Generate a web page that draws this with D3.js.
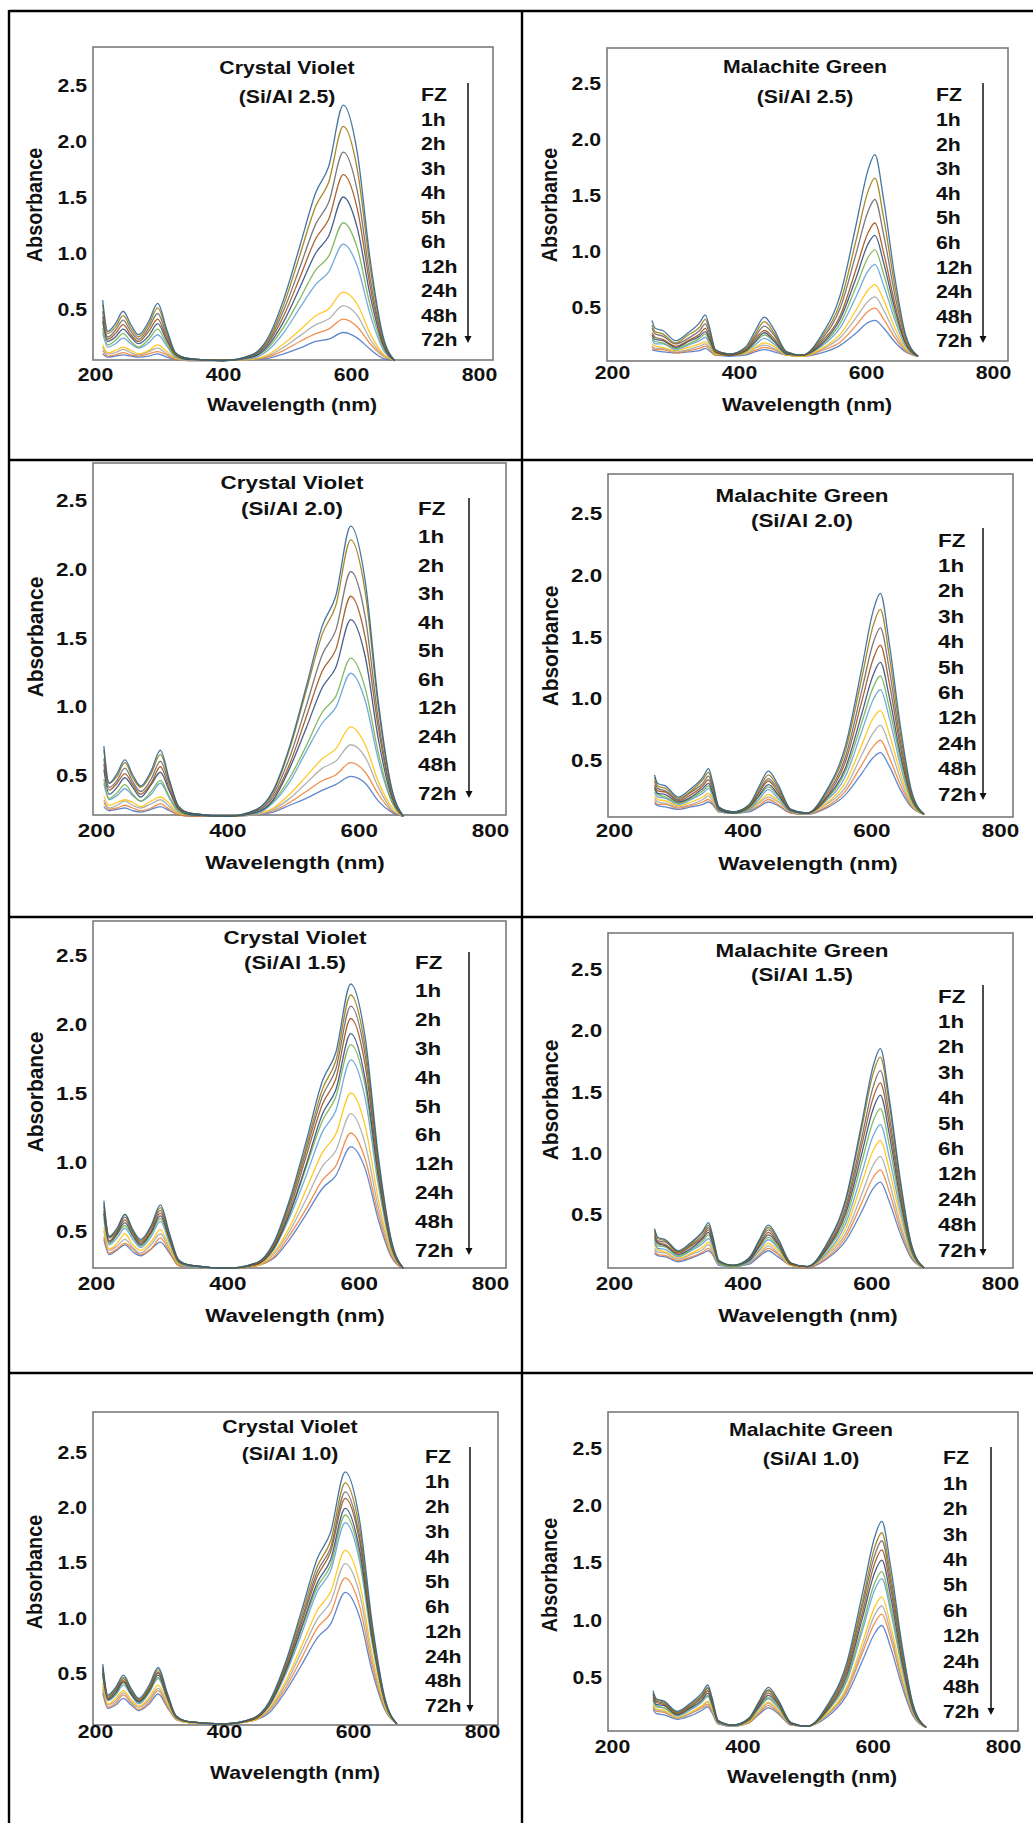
<!DOCTYPE html>
<html lang="en">
<head>
<meta charset="UTF-8">
<title>CV / MG absorbance spectra</title>
<script src="https://d3js.org/d3.v7.min.js"></script>
<style>
  body { margin: 0; background: #fff; }
  svg { display: block; }
  text { font-family: Arial, "Liberation Sans", sans-serif; font-weight: bold; fill: #111; }
</style>
</head>
<body>
<svg width="1033" height="1823"></svg>
<script>
// ---- data ----
const seriesLabels = ["FZ", "1h", "2h", "3h", "4h", "5h", "6h", "12h", "24h", "48h", "72h"];
const xTicks = [200, 400, 600, 800];
const yTicks = [0.5, 1.0, 1.5, 2.0, 2.5];

const cvWavelength = [212, 220, 232, 244, 256, 268, 284, 298, 312, 326, 345, 400, 445, 470, 495, 520, 545, 565, 588, 610, 630, 650, 668];
const mgWavelength = [263, 268, 280, 300, 320, 338, 347, 353, 363, 385, 410, 425, 440, 455, 475, 500, 530, 560, 585, 603, 614, 628, 645, 662, 682];

// Crystal Violet, Si/Al 2.5 (rows: FZ ... 72h)
const cv25 = [
  [0.58, 0.30, 0.37, 0.48, 0.36, 0.27, 0.39, 0.55, 0.32, 0.11, 0.06, 0.04, 0.09, 0.24, 0.59, 1.06, 1.54, 1.77, 2.32, 1.89, 0.94, 0.26, 0.04],
  [0.54, 0.28, 0.34, 0.44, 0.33, 0.25, 0.36, 0.51, 0.30, 0.10, 0.06, 0.04, 0.09, 0.22, 0.54, 0.98, 1.42, 1.63, 2.13, 1.74, 0.87, 0.24, 0.04],
  [0.48, 0.25, 0.31, 0.40, 0.30, 0.23, 0.33, 0.46, 0.27, 0.10, 0.06, 0.04, 0.08, 0.20, 0.49, 0.87, 1.26, 1.45, 1.90, 1.55, 0.77, 0.22, 0.04],
  [0.43, 0.23, 0.28, 0.36, 0.27, 0.21, 0.30, 0.41, 0.24, 0.09, 0.06, 0.04, 0.08, 0.19, 0.44, 0.78, 1.13, 1.30, 1.70, 1.39, 0.70, 0.20, 0.04],
  [0.39, 0.21, 0.25, 0.32, 0.25, 0.19, 0.26, 0.37, 0.22, 0.09, 0.05, 0.04, 0.07, 0.17, 0.39, 0.69, 1.00, 1.15, 1.50, 1.22, 0.62, 0.18, 0.04],
  [0.33, 0.18, 0.22, 0.28, 0.21, 0.16, 0.23, 0.32, 0.19, 0.08, 0.05, 0.04, 0.07, 0.15, 0.34, 0.59, 0.85, 0.97, 1.27, 1.04, 0.53, 0.16, 0.04],
  [0.29, 0.16, 0.19, 0.24, 0.19, 0.15, 0.20, 0.27, 0.17, 0.07, 0.05, 0.04, 0.06, 0.13, 0.29, 0.51, 0.72, 0.83, 1.08, 0.88, 0.45, 0.14, 0.04],
  [0.18, 0.11, 0.13, 0.16, 0.13, 0.10, 0.13, 0.18, 0.12, 0.06, 0.05, 0.04, 0.05, 0.09, 0.19, 0.31, 0.44, 0.50, 0.65, 0.54, 0.28, 0.10, 0.04],
  [0.16, 0.10, 0.11, 0.14, 0.11, 0.09, 0.12, 0.15, 0.10, 0.06, 0.04, 0.04, 0.05, 0.08, 0.16, 0.26, 0.36, 0.41, 0.53, 0.44, 0.23, 0.09, 0.04],
  [0.13, 0.08, 0.09, 0.11, 0.09, 0.08, 0.10, 0.12, 0.09, 0.05, 0.04, 0.04, 0.05, 0.07, 0.13, 0.21, 0.28, 0.32, 0.41, 0.34, 0.19, 0.08, 0.04],
  [0.10, 0.07, 0.08, 0.09, 0.08, 0.07, 0.08, 0.10, 0.07, 0.05, 0.04, 0.04, 0.05, 0.06, 0.10, 0.15, 0.21, 0.23, 0.29, 0.24, 0.14, 0.06, 0.04]
];

// Crystal Violet, Si/Al 2.0 (this panel's axis sits higher: baseline reads about 0.2)
const cv20 = [
  [0.71, 0.44, 0.51, 0.61, 0.50, 0.42, 0.53, 0.68, 0.46, 0.27, 0.22, 0.20, 0.25, 0.39, 0.71, 1.14, 1.59, 1.80, 2.31, 1.91, 1.03, 0.41, 0.20],
  [0.68, 0.44, 0.49, 0.59, 0.48, 0.41, 0.51, 0.65, 0.45, 0.27, 0.22, 0.20, 0.25, 0.38, 0.69, 1.11, 1.53, 1.73, 2.21, 1.83, 0.99, 0.40, 0.20],
  [0.62, 0.41, 0.46, 0.55, 0.45, 0.38, 0.47, 0.60, 0.43, 0.26, 0.22, 0.20, 0.24, 0.36, 0.63, 1.00, 1.38, 1.55, 1.98, 1.65, 0.90, 0.37, 0.20],
  [0.58, 0.39, 0.44, 0.51, 0.43, 0.36, 0.44, 0.56, 0.40, 0.25, 0.22, 0.20, 0.24, 0.34, 0.58, 0.92, 1.26, 1.41, 1.80, 1.50, 0.84, 0.36, 0.20],
  [0.54, 0.36, 0.41, 0.48, 0.41, 0.34, 0.43, 0.52, 0.38, 0.25, 0.21, 0.20, 0.23, 0.32, 0.55, 0.84, 1.14, 1.28, 1.63, 1.36, 0.76, 0.34, 0.20],
  [0.47, 0.33, 0.37, 0.43, 0.36, 0.31, 0.38, 0.46, 0.34, 0.24, 0.21, 0.20, 0.23, 0.31, 0.48, 0.71, 0.96, 1.07, 1.35, 1.13, 0.66, 0.31, 0.20],
  [0.44, 0.32, 0.35, 0.40, 0.35, 0.31, 0.36, 0.44, 0.33, 0.23, 0.21, 0.20, 0.22, 0.30, 0.45, 0.67, 0.88, 0.99, 1.24, 1.04, 0.61, 0.31, 0.20],
  [0.35, 0.28, 0.30, 0.32, 0.30, 0.27, 0.31, 0.34, 0.29, 0.22, 0.21, 0.20, 0.22, 0.26, 0.36, 0.49, 0.62, 0.69, 0.85, 0.72, 0.45, 0.27, 0.20],
  [0.32, 0.26, 0.28, 0.31, 0.28, 0.26, 0.29, 0.32, 0.27, 0.22, 0.21, 0.20, 0.21, 0.25, 0.33, 0.44, 0.55, 0.60, 0.72, 0.63, 0.41, 0.25, 0.20],
  [0.30, 0.25, 0.26, 0.28, 0.26, 0.24, 0.26, 0.29, 0.25, 0.21, 0.20, 0.20, 0.21, 0.24, 0.30, 0.38, 0.46, 0.50, 0.59, 0.52, 0.36, 0.24, 0.20],
  [0.27, 0.24, 0.25, 0.26, 0.24, 0.23, 0.25, 0.27, 0.24, 0.21, 0.20, 0.20, 0.21, 0.23, 0.28, 0.33, 0.39, 0.43, 0.49, 0.44, 0.31, 0.23, 0.20]
];

// Crystal Violet, Si/Al 1.5 (baseline reads about 0.23 on this panel's axis)
const cv15 = [
  [0.72, 0.46, 0.52, 0.62, 0.51, 0.44, 0.54, 0.69, 0.48, 0.29, 0.25, 0.23, 0.27, 0.41, 0.73, 1.15, 1.59, 1.79, 2.29, 1.90, 1.04, 0.43, 0.23],
  [0.70, 0.46, 0.51, 0.62, 0.50, 0.43, 0.53, 0.67, 0.47, 0.29, 0.25, 0.23, 0.27, 0.40, 0.71, 1.11, 1.53, 1.73, 2.21, 1.83, 1.01, 0.42, 0.23],
  [0.68, 0.45, 0.50, 0.60, 0.50, 0.42, 0.52, 0.65, 0.46, 0.28, 0.25, 0.23, 0.27, 0.39, 0.69, 1.08, 1.48, 1.67, 2.13, 1.77, 0.98, 0.41, 0.23],
  [0.65, 0.43, 0.49, 0.58, 0.49, 0.41, 0.50, 0.63, 0.45, 0.28, 0.25, 0.23, 0.26, 0.38, 0.66, 1.04, 1.42, 1.60, 2.04, 1.70, 0.94, 0.40, 0.23],
  [0.63, 0.42, 0.48, 0.56, 0.47, 0.40, 0.49, 0.61, 0.44, 0.28, 0.25, 0.23, 0.26, 0.37, 0.63, 0.98, 1.35, 1.52, 1.93, 1.60, 0.90, 0.39, 0.23],
  [0.62, 0.41, 0.47, 0.54, 0.46, 0.39, 0.48, 0.59, 0.43, 0.27, 0.25, 0.23, 0.26, 0.37, 0.62, 0.96, 1.30, 1.47, 1.85, 1.55, 0.87, 0.38, 0.23],
  [0.59, 0.40, 0.45, 0.52, 0.44, 0.38, 0.46, 0.57, 0.41, 0.27, 0.24, 0.23, 0.26, 0.36, 0.60, 0.90, 1.22, 1.37, 1.74, 1.46, 0.83, 0.37, 0.23],
  [0.53, 0.37, 0.41, 0.48, 0.40, 0.36, 0.42, 0.51, 0.38, 0.26, 0.24, 0.23, 0.25, 0.34, 0.53, 0.80, 1.07, 1.20, 1.50, 1.26, 0.73, 0.35, 0.23],
  [0.50, 0.36, 0.39, 0.44, 0.38, 0.34, 0.40, 0.48, 0.37, 0.26, 0.24, 0.23, 0.25, 0.33, 0.50, 0.73, 0.97, 1.08, 1.35, 1.13, 0.67, 0.34, 0.23],
  [0.46, 0.34, 0.37, 0.41, 0.37, 0.33, 0.37, 0.45, 0.35, 0.25, 0.24, 0.23, 0.25, 0.31, 0.47, 0.66, 0.87, 0.97, 1.21, 1.02, 0.62, 0.32, 0.23],
  [0.44, 0.33, 0.36, 0.40, 0.35, 0.32, 0.37, 0.42, 0.34, 0.25, 0.24, 0.23, 0.25, 0.30, 0.44, 0.62, 0.81, 0.90, 1.11, 0.95, 0.58, 0.31, 0.23]
];

// Crystal Violet, Si/Al 1.0
const cv10 = [
  [0.58, 0.30, 0.37, 0.48, 0.36, 0.27, 0.39, 0.55, 0.32, 0.11, 0.06, 0.04, 0.09, 0.24, 0.59, 1.06, 1.54, 1.77, 2.32, 1.89, 0.94, 0.26, 0.04],
  [0.56, 0.29, 0.36, 0.46, 0.35, 0.26, 0.37, 0.53, 0.31, 0.11, 0.06, 0.04, 0.09, 0.23, 0.57, 1.02, 1.47, 1.69, 2.22, 1.81, 0.90, 0.25, 0.04],
  [0.54, 0.28, 0.34, 0.45, 0.33, 0.25, 0.36, 0.51, 0.30, 0.10, 0.06, 0.04, 0.09, 0.22, 0.55, 0.98, 1.42, 1.63, 2.14, 1.74, 0.87, 0.24, 0.04],
  [0.52, 0.27, 0.34, 0.43, 0.33, 0.25, 0.35, 0.50, 0.29, 0.10, 0.06, 0.04, 0.08, 0.22, 0.53, 0.95, 1.38, 1.59, 2.08, 1.70, 0.85, 0.24, 0.04],
  [0.50, 0.26, 0.32, 0.42, 0.31, 0.24, 0.34, 0.48, 0.28, 0.10, 0.06, 0.04, 0.08, 0.21, 0.51, 0.91, 1.32, 1.52, 1.99, 1.62, 0.81, 0.23, 0.04],
  [0.49, 0.26, 0.31, 0.41, 0.31, 0.23, 0.33, 0.46, 0.27, 0.10, 0.06, 0.04, 0.08, 0.21, 0.50, 0.89, 1.28, 1.47, 1.93, 1.57, 0.79, 0.22, 0.04],
  [0.47, 0.25, 0.30, 0.39, 0.30, 0.22, 0.32, 0.45, 0.26, 0.10, 0.06, 0.04, 0.08, 0.20, 0.48, 0.85, 1.24, 1.42, 1.86, 1.52, 0.76, 0.22, 0.04],
  [0.41, 0.22, 0.27, 0.34, 0.26, 0.20, 0.28, 0.39, 0.23, 0.09, 0.05, 0.04, 0.07, 0.18, 0.42, 0.74, 1.07, 1.23, 1.61, 1.32, 0.66, 0.19, 0.04],
  [0.38, 0.21, 0.25, 0.32, 0.24, 0.19, 0.26, 0.36, 0.22, 0.08, 0.05, 0.04, 0.07, 0.17, 0.39, 0.69, 0.99, 1.14, 1.49, 1.22, 0.61, 0.18, 0.04],
  [0.35, 0.19, 0.23, 0.30, 0.23, 0.17, 0.24, 0.34, 0.20, 0.08, 0.05, 0.04, 0.07, 0.16, 0.36, 0.63, 0.91, 1.04, 1.36, 1.11, 0.56, 0.17, 0.04],
  [0.32, 0.18, 0.21, 0.27, 0.21, 0.16, 0.22, 0.31, 0.19, 0.08, 0.05, 0.04, 0.07, 0.14, 0.33, 0.57, 0.82, 0.94, 1.23, 1.01, 0.51, 0.16, 0.04]
];

// Malachite Green, Si/Al 2.5
const mg25 = [
  [0.38, 0.31, 0.29, 0.20, 0.27, 0.36, 0.43, 0.33, 0.12, 0.08, 0.14, 0.28, 0.41, 0.30, 0.10, 0.07, 0.25, 0.62, 1.25, 1.72, 1.86, 1.45, 0.78, 0.26, 0.06],
  [0.34, 0.28, 0.26, 0.18, 0.25, 0.32, 0.39, 0.30, 0.11, 0.08, 0.13, 0.25, 0.37, 0.27, 0.10, 0.07, 0.23, 0.55, 1.11, 1.53, 1.65, 1.29, 0.70, 0.24, 0.06],
  [0.31, 0.26, 0.24, 0.17, 0.22, 0.29, 0.35, 0.27, 0.11, 0.08, 0.12, 0.23, 0.33, 0.25, 0.09, 0.07, 0.21, 0.50, 0.99, 1.35, 1.46, 1.14, 0.62, 0.22, 0.06],
  [0.27, 0.23, 0.21, 0.15, 0.20, 0.26, 0.31, 0.24, 0.10, 0.07, 0.11, 0.21, 0.29, 0.22, 0.09, 0.07, 0.19, 0.43, 0.85, 1.16, 1.25, 0.98, 0.54, 0.19, 0.06],
  [0.25, 0.21, 0.20, 0.14, 0.19, 0.24, 0.28, 0.22, 0.10, 0.07, 0.11, 0.19, 0.27, 0.20, 0.08, 0.07, 0.17, 0.40, 0.77, 1.06, 1.14, 0.89, 0.49, 0.18, 0.06],
  [0.23, 0.19, 0.18, 0.13, 0.17, 0.22, 0.26, 0.20, 0.09, 0.07, 0.10, 0.18, 0.25, 0.19, 0.08, 0.07, 0.16, 0.36, 0.69, 0.94, 1.01, 0.79, 0.44, 0.17, 0.06],
  [0.21, 0.17, 0.17, 0.12, 0.16, 0.20, 0.23, 0.18, 0.09, 0.07, 0.10, 0.16, 0.22, 0.17, 0.08, 0.07, 0.15, 0.32, 0.60, 0.82, 0.88, 0.69, 0.39, 0.15, 0.06],
  [0.17, 0.15, 0.14, 0.11, 0.14, 0.17, 0.19, 0.16, 0.08, 0.07, 0.09, 0.14, 0.18, 0.15, 0.07, 0.06, 0.13, 0.26, 0.48, 0.65, 0.70, 0.56, 0.32, 0.13, 0.06],
  [0.15, 0.13, 0.13, 0.10, 0.12, 0.15, 0.17, 0.14, 0.08, 0.07, 0.08, 0.13, 0.16, 0.13, 0.07, 0.06, 0.12, 0.23, 0.41, 0.55, 0.59, 0.47, 0.27, 0.12, 0.06],
  [0.14, 0.12, 0.12, 0.09, 0.11, 0.13, 0.15, 0.13, 0.07, 0.07, 0.08, 0.11, 0.14, 0.12, 0.07, 0.06, 0.11, 0.19, 0.34, 0.46, 0.49, 0.39, 0.23, 0.11, 0.06],
  [0.12, 0.11, 0.10, 0.09, 0.10, 0.11, 0.13, 0.11, 0.07, 0.06, 0.07, 0.10, 0.12, 0.10, 0.07, 0.06, 0.09, 0.16, 0.27, 0.36, 0.38, 0.31, 0.19, 0.10, 0.06]
];

// Malachite Green, Si/Al 2.0
const mg20 = [
  [0.38, 0.31, 0.29, 0.20, 0.27, 0.36, 0.43, 0.33, 0.12, 0.08, 0.14, 0.28, 0.41, 0.30, 0.10, 0.07, 0.25, 0.62, 1.24, 1.71, 1.85, 1.44, 0.78, 0.26, 0.06],
  [0.36, 0.29, 0.27, 0.19, 0.25, 0.34, 0.40, 0.31, 0.12, 0.08, 0.13, 0.26, 0.38, 0.28, 0.10, 0.07, 0.24, 0.58, 1.16, 1.59, 1.72, 1.34, 0.72, 0.24, 0.06],
  [0.33, 0.27, 0.25, 0.18, 0.24, 0.31, 0.37, 0.29, 0.11, 0.08, 0.13, 0.24, 0.35, 0.26, 0.09, 0.07, 0.22, 0.53, 1.06, 1.45, 1.57, 1.23, 0.66, 0.23, 0.06],
  [0.30, 0.25, 0.24, 0.17, 0.22, 0.29, 0.34, 0.27, 0.11, 0.08, 0.12, 0.23, 0.33, 0.24, 0.09, 0.07, 0.20, 0.49, 0.97, 1.32, 1.43, 1.12, 0.61, 0.21, 0.06],
  [0.28, 0.23, 0.22, 0.16, 0.20, 0.27, 0.31, 0.24, 0.10, 0.07, 0.12, 0.21, 0.30, 0.22, 0.09, 0.07, 0.19, 0.44, 0.87, 1.19, 1.29, 1.01, 0.55, 0.20, 0.06],
  [0.26, 0.22, 0.20, 0.15, 0.19, 0.25, 0.29, 0.23, 0.10, 0.07, 0.11, 0.20, 0.28, 0.21, 0.09, 0.07, 0.18, 0.41, 0.80, 1.09, 1.18, 0.92, 0.51, 0.18, 0.06],
  [0.24, 0.20, 0.19, 0.14, 0.18, 0.23, 0.27, 0.21, 0.09, 0.07, 0.10, 0.18, 0.26, 0.19, 0.08, 0.07, 0.17, 0.37, 0.73, 0.99, 1.07, 0.84, 0.46, 0.17, 0.06],
  [0.21, 0.18, 0.17, 0.13, 0.16, 0.20, 0.23, 0.19, 0.09, 0.07, 0.10, 0.16, 0.22, 0.17, 0.08, 0.07, 0.15, 0.32, 0.62, 0.84, 0.90, 0.71, 0.40, 0.15, 0.06],
  [0.19, 0.16, 0.15, 0.12, 0.14, 0.18, 0.21, 0.17, 0.08, 0.07, 0.09, 0.15, 0.20, 0.16, 0.08, 0.06, 0.14, 0.28, 0.54, 0.72, 0.78, 0.62, 0.35, 0.14, 0.06],
  [0.17, 0.14, 0.14, 0.11, 0.13, 0.16, 0.18, 0.15, 0.08, 0.07, 0.09, 0.13, 0.18, 0.14, 0.07, 0.06, 0.12, 0.25, 0.46, 0.61, 0.66, 0.52, 0.30, 0.13, 0.06],
  [0.15, 0.13, 0.12, 0.10, 0.12, 0.14, 0.16, 0.14, 0.08, 0.07, 0.08, 0.12, 0.16, 0.13, 0.07, 0.06, 0.11, 0.22, 0.39, 0.52, 0.56, 0.45, 0.26, 0.12, 0.06]
];

// Malachite Green, Si/Al 1.5
const mg15 = [
  [0.38, 0.31, 0.29, 0.20, 0.27, 0.36, 0.43, 0.33, 0.12, 0.08, 0.14, 0.28, 0.41, 0.30, 0.10, 0.07, 0.25, 0.62, 1.24, 1.71, 1.85, 1.44, 0.78, 0.26, 0.06],
  [0.37, 0.30, 0.28, 0.19, 0.26, 0.35, 0.41, 0.32, 0.12, 0.08, 0.14, 0.27, 0.39, 0.29, 0.10, 0.07, 0.24, 0.60, 1.20, 1.65, 1.78, 1.39, 0.75, 0.25, 0.06],
  [0.35, 0.28, 0.27, 0.19, 0.25, 0.33, 0.39, 0.30, 0.11, 0.08, 0.13, 0.26, 0.37, 0.27, 0.10, 0.07, 0.23, 0.56, 1.12, 1.54, 1.67, 1.30, 0.70, 0.24, 0.06],
  [0.33, 0.27, 0.25, 0.18, 0.24, 0.31, 0.37, 0.29, 0.11, 0.08, 0.13, 0.24, 0.35, 0.26, 0.09, 0.07, 0.22, 0.53, 1.06, 1.45, 1.57, 1.23, 0.66, 0.23, 0.06],
  [0.31, 0.26, 0.24, 0.17, 0.22, 0.30, 0.35, 0.27, 0.11, 0.08, 0.12, 0.23, 0.33, 0.25, 0.09, 0.07, 0.21, 0.50, 0.99, 1.36, 1.47, 1.15, 0.62, 0.22, 0.06],
  [0.29, 0.24, 0.23, 0.16, 0.21, 0.28, 0.33, 0.26, 0.10, 0.07, 0.12, 0.22, 0.31, 0.23, 0.09, 0.07, 0.20, 0.46, 0.92, 1.26, 1.36, 1.06, 0.58, 0.20, 0.06],
  [0.27, 0.22, 0.21, 0.15, 0.20, 0.26, 0.30, 0.24, 0.10, 0.07, 0.11, 0.20, 0.29, 0.22, 0.09, 0.07, 0.18, 0.42, 0.83, 1.14, 1.23, 0.96, 0.53, 0.19, 0.06],
  [0.25, 0.21, 0.19, 0.14, 0.18, 0.23, 0.27, 0.22, 0.10, 0.07, 0.11, 0.19, 0.26, 0.20, 0.08, 0.07, 0.17, 0.38, 0.75, 1.02, 1.10, 0.86, 0.48, 0.18, 0.06],
  [0.22, 0.19, 0.18, 0.13, 0.17, 0.21, 0.25, 0.20, 0.09, 0.07, 0.10, 0.17, 0.24, 0.18, 0.08, 0.07, 0.16, 0.34, 0.66, 0.90, 0.97, 0.76, 0.42, 0.16, 0.06],
  [0.20, 0.17, 0.16, 0.12, 0.15, 0.19, 0.22, 0.18, 0.09, 0.07, 0.10, 0.16, 0.22, 0.17, 0.08, 0.06, 0.14, 0.31, 0.59, 0.80, 0.86, 0.68, 0.38, 0.15, 0.06],
  [0.18, 0.16, 0.15, 0.11, 0.14, 0.18, 0.20, 0.17, 0.08, 0.07, 0.09, 0.15, 0.20, 0.15, 0.08, 0.06, 0.13, 0.28, 0.52, 0.71, 0.76, 0.60, 0.34, 0.14, 0.06]
];

// Malachite Green, Si/Al 1.0
const mg10 = [
  [0.38, 0.31, 0.29, 0.20, 0.27, 0.36, 0.43, 0.33, 0.12, 0.08, 0.14, 0.28, 0.41, 0.30, 0.10, 0.07, 0.25, 0.62, 1.25, 1.72, 1.86, 1.45, 0.78, 0.26, 0.06],
  [0.36, 0.30, 0.28, 0.19, 0.26, 0.34, 0.41, 0.32, 0.12, 0.08, 0.14, 0.27, 0.39, 0.29, 0.10, 0.07, 0.24, 0.59, 1.18, 1.63, 1.76, 1.37, 0.74, 0.25, 0.06],
  [0.35, 0.29, 0.27, 0.19, 0.25, 0.33, 0.40, 0.30, 0.11, 0.08, 0.13, 0.26, 0.38, 0.28, 0.10, 0.07, 0.23, 0.57, 1.14, 1.56, 1.69, 1.32, 0.71, 0.24, 0.06],
  [0.34, 0.28, 0.26, 0.18, 0.24, 0.32, 0.38, 0.29, 0.11, 0.08, 0.13, 0.25, 0.36, 0.27, 0.09, 0.07, 0.22, 0.54, 1.08, 1.49, 1.61, 1.26, 0.68, 0.23, 0.06],
  [0.32, 0.26, 0.25, 0.17, 0.23, 0.30, 0.36, 0.28, 0.11, 0.08, 0.13, 0.24, 0.34, 0.26, 0.09, 0.07, 0.21, 0.51, 1.03, 1.41, 1.52, 1.19, 0.64, 0.22, 0.06],
  [0.30, 0.25, 0.23, 0.17, 0.22, 0.29, 0.34, 0.26, 0.11, 0.08, 0.12, 0.23, 0.32, 0.24, 0.09, 0.07, 0.20, 0.48, 0.96, 1.32, 1.42, 1.11, 0.60, 0.21, 0.06],
  [0.29, 0.24, 0.23, 0.16, 0.21, 0.28, 0.33, 0.26, 0.10, 0.07, 0.12, 0.22, 0.31, 0.23, 0.09, 0.07, 0.20, 0.46, 0.92, 1.26, 1.36, 1.06, 0.58, 0.20, 0.06],
  [0.26, 0.22, 0.21, 0.15, 0.19, 0.25, 0.29, 0.23, 0.10, 0.07, 0.11, 0.20, 0.28, 0.21, 0.09, 0.07, 0.18, 0.41, 0.81, 1.11, 1.20, 0.94, 0.52, 0.19, 0.06],
  [0.25, 0.21, 0.20, 0.14, 0.18, 0.24, 0.28, 0.22, 0.10, 0.07, 0.11, 0.19, 0.27, 0.20, 0.08, 0.07, 0.17, 0.39, 0.76, 1.04, 1.12, 0.88, 0.48, 0.18, 0.06],
  [0.24, 0.20, 0.19, 0.14, 0.18, 0.23, 0.26, 0.21, 0.09, 0.07, 0.10, 0.18, 0.25, 0.19, 0.08, 0.07, 0.17, 0.37, 0.72, 0.97, 1.05, 0.83, 0.46, 0.17, 0.06],
  [0.22, 0.18, 0.17, 0.13, 0.16, 0.21, 0.24, 0.19, 0.09, 0.07, 0.10, 0.17, 0.23, 0.18, 0.08, 0.07, 0.15, 0.34, 0.65, 0.88, 0.95, 0.75, 0.42, 0.16, 0.06]
];

// Excel-like series colours, FZ first
const seriesColors = ["#255E91", "#997300", "#636363", "#9E480E", "#264478", "#70AD47",
                      "#5B9BD5", "#FFC000", "#A5A5A5", "#ED7D31", "#4472C4"];

// ---- layout (page pixels) ----
const SX = 1.18;   // the source figure is stretched horizontally

const panels = [
  { title: "Crystal Violet", sub: "(Si/Al 2.5)", wl: cvWavelength, data: cv25, fs: 18,
    box: [93, 47, 493, 360], x200: 95, x800: 479, y25: 85, y05: 309,
    titleX: 287, titleY: 68, subY: 97, legX: 421, legY0: 95, legY1: 340,
    arrX: 468, arrY0: 83, arrY1: 343, absX: 35, absY: 205, tickY: 375, wlX: 292, wlY: 405 },
  { title: "Malachite Green", sub: "(Si/Al 2.5)", wl: mgWavelength, data: mg25, fs: 18,
    box: [607, 48, 1008, 361], x200: 612, x800: 993, y25: 83, y05: 307,
    titleX: 805, titleY: 67, subY: 97, legX: 936, legY0: 95, legY1: 341,
    arrX: 983, arrY0: 83, arrY1: 343, absX: 550, absY: 205, tickY: 373, wlX: 807, wlY: 405 },
  { title: "Crystal Violet", sub: "(Si/Al 2.0)", wl: cvWavelength, data: cv20, fs: 19,
    box: [93, 463, 506, 815], x200: 96, x800: 490, y25: 500, y05: 775,
    titleX: 292, titleY: 482, subY: 508, legX: 418, legY0: 508, legY1: 793,
    arrX: 469, arrY0: 498, arrY1: 798, absX: 35, absY: 637, tickY: 830, wlX: 295, wlY: 862 },
  { title: "Malachite Green", sub: "(Si/Al 2.0)", wl: mgWavelength, data: mg20, fs: 19,
    box: [608, 474, 1013, 817], x200: 614, x800: 1000, y25: 513, y05: 760,
    titleX: 802, titleY: 495, subY: 520, legX: 938, legY0: 540, legY1: 794,
    arrX: 983, arrY0: 528, arrY1: 800, absX: 550, absY: 646, tickY: 830, wlX: 808, wlY: 863 },
  { title: "Crystal Violet", sub: "(Si/Al 1.5)", wl: cvWavelength, data: cv15, fs: 19,
    box: [93, 921, 506, 1268], x200: 96, x800: 490, y25: 955, y05: 1231,
    titleX: 295, titleY: 937, subY: 962, legX: 415, legY0: 962, legY1: 1250,
    arrX: 469, arrY0: 952, arrY1: 1255, absX: 35, absY: 1092, tickY: 1283, wlX: 295, wlY: 1315 },
  { title: "Malachite Green", sub: "(Si/Al 1.5)", wl: mgWavelength, data: mg15, fs: 19,
    box: [608, 933, 1013, 1268], x200: 614, x800: 1000, y25: 969, y05: 1214,
    titleX: 802, titleY: 950, subY: 974, legX: 938, legY0: 996, legY1: 1250,
    arrX: 983, arrY0: 985, arrY1: 1256, absX: 550, absY: 1100, tickY: 1283, wlX: 808, wlY: 1315 },
  { title: "Crystal Violet", sub: "(Si/Al 1.0)", wl: cvWavelength, data: cv10, fs: 18,
    box: [93, 1412, 498, 1725], x200: 95, x800: 482, y25: 1452, y05: 1673,
    titleX: 290, titleY: 1427, subY: 1454, legX: 425, legY0: 1457, legY1: 1706,
    arrX: 470, arrY0: 1447, arrY1: 1712, absX: 35, absY: 1572, tickY: 1732, wlX: 295, wlY: 1773 },
  { title: "Malachite Green", sub: "(Si/Al 1.0)", wl: mgWavelength, data: mg10, fs: 18,
    box: [608, 1412, 1018, 1731], x200: 612, x800: 1003, y25: 1448, y05: 1677,
    titleX: 811, titleY: 1430, subY: 1459, legX: 943, legY0: 1458, legY1: 1712,
    arrX: 991, arrY0: 1447, arrY1: 1715, absX: 550, absY: 1575, tickY: 1747, wlX: 812, wlY: 1777 }
];

const svg = d3.select("svg");

// table grid
const grid = svg.append("g").attr("stroke", "#000").attr("stroke-width", 2.4);
grid.append("line").attr("x1", 9).attr("y1", 11).attr("x2", 1033).attr("y2", 11);
grid.append("line").attr("x1", 9).attr("y1", 10).attr("x2", 9).attr("y2", 1823);
grid.append("line").attr("x1", 522).attr("y1", 10).attr("x2", 522).attr("y2", 1823);
[460, 917, 1373].forEach(function (yy) {
  grid.append("line").attr("x1", 9).attr("y1", yy).attr("x2", 1033).attr("y2", yy);
});

function label(g, x, y, txt, fs, anchor) {
  return g.append("text")
    .attr("transform", "translate(" + x + "," + y + ") scale(" + SX + ",1)")
    .attr("text-anchor", anchor || "middle")
    .attr("dy", "0.35em")
    .attr("font-size", fs)
    .text(txt);
}

function drawPanel(p) {
  const g = svg.append("g");
  const x = d3.scaleLinear().domain([200, 800]).range([p.x200, p.x800]);
  const y = d3.scaleLinear().domain([0.5, 2.5]).range([p.y05, p.y25]);

  // plot frame
  g.append("rect")
    .attr("x", p.box[0]).attr("y", p.box[1])
    .attr("width", p.box[2] - p.box[0]).attr("height", p.box[3] - p.box[1])
    .attr("fill", "none").attr("stroke", "#7a7a7a").attr("stroke-width", 1.6);

  // spectra, 72h underneath, FZ on top
  const line = d3.line()
    .x(function (d, i) { return x(p.wl[i]); })
    .y(function (d) { return y(d); })
    .curve(d3.curveMonotoneX);
  const rows = p.data.map(function (v, i) { return { v: v, i: i }; }).reverse();
  g.append("g").selectAll("path")
    .data(rows)
    .enter().append("path")
    .attr("d", function (d) { return line(d.v); })
    .attr("fill", "none")
    .attr("stroke", function (d) { return seriesColors[d.i]; })
    .attr("stroke-width", 1.3)
    .attr("stroke-opacity", 0.85);

  // axes (labels only, no tick marks)
  const ax = g.append("g").attr("transform", "translate(0," + p.box[3] + ")")
    .call(d3.axisBottom(x).tickValues(xTicks).tickSize(0).tickFormat(d3.format("d")));
  ax.select(".domain").remove();
  ax.selectAll("text")
    .attr("y", p.tickY - p.box[3]).attr("dy", "0.35em")
    .attr("font-size", p.fs).attr("font-family", null)
    .attr("transform", "scale(" + SX + ",1)");

  const ay = g.append("g").attr("transform", "translate(" + p.box[0] + ",0)")
    .call(d3.axisLeft(y).tickValues(yTicks).tickSize(0).tickFormat(d3.format(".1f")));
  ay.select(".domain").remove();
  ay.selectAll("text")
    .attr("x", -5).attr("dy", "0.35em")
    .attr("font-size", p.fs).attr("font-family", null)
    .attr("transform", "scale(" + SX + ",1)");

  // titles
  label(g, p.titleX, p.titleY, p.title, p.fs);
  label(g, p.titleX, p.subY, p.sub, p.fs);
  label(g, p.wlX, p.wlY, "Wavelength (nm)", p.fs);
  g.append("text")
    .attr("transform", "translate(" + p.absX + "," + p.absY + ") rotate(-90) scale(1.1," + SX + ")")
    .attr("text-anchor", "middle").attr("dy", "0.35em").attr("font-size", p.fs)
    .text("Absorbance");

  // legend list with arrow
  const step = (p.legY1 - p.legY0) / (seriesLabels.length - 1);
  seriesLabels.forEach(function (s, i) {
    label(g, p.legX, p.legY0 + i * step, s, p.fs, "start");
  });
  g.append("line")
    .attr("x1", p.arrX).attr("x2", p.arrX)
    .attr("y1", p.arrY0).attr("y2", p.arrY1 - 6)
    .attr("stroke", "#111").attr("stroke-width", 1.5);
  g.append("path")
    .attr("d", "M" + (p.arrX - 3.5) + "," + (p.arrY1 - 7) + "L" + (p.arrX + 3.5) + "," + (p.arrY1 - 7) + "L" + p.arrX + "," + p.arrY1 + "Z")
    .attr("fill", "#111");
}

panels.forEach(drawPanel);
</script>
</body>
</html>
